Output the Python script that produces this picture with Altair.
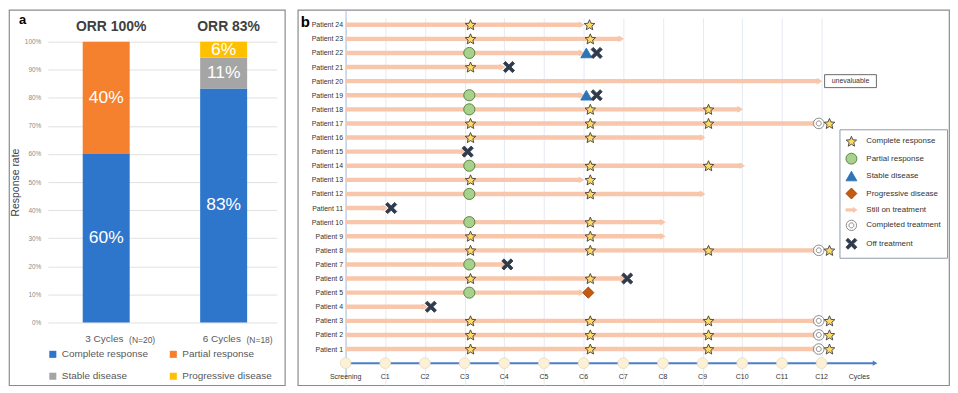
import altair as alt
import pandas as pd

FONT = "Liberation Sans"

# ---------------- panel a : response rates ----------------
groups = ["3 Cycles", "6 Cycles"]
group_n = ["(N=20)", "(N=18)"]
orr_titles = ["ORR 100%", "ORR 83%"]
responses = ["Complete response", "Partial response", "Stable disease", "Progressive disease"]
response_colors = ["#2E75CC", "#F5802E", "#A5A5A5", "#FFC000"]
pct_3_cycles = [60, 40, 0, 0]
pct_6_cycles = [83.3, 0, 11.1, 5.6]
text_3_cycles = ["60%", "40%", "", ""]
text_6_cycles = ["83%", "", "11%", "6%"]
pct_ticks = [0, 10, 20, 30, 40, 50, 60, 70, 80, 90, 100]

rows_a = []
for g, vals, txts in [(groups[0], pct_3_cycles, text_3_cycles),
                      (groups[1], pct_6_cycles, text_6_cycles)]:
    base = 0.0
    for r, v, t in zip(responses, vals, txts):
        if v > 0:
            rows_a.append({"group": g, "response": r, "y0": base, "y1": base + v,
                           "mid": base + v / 2, "text": t})
        base += v
df_a = pd.DataFrame(rows_a)
df_groups = pd.DataFrame({"group": groups, "n": group_n, "orr": orr_titles})

xa_scale = alt.Scale(domain=groups, range=[39, 269], paddingInner=0.6,
                     paddingOuter=0.275, align=0.54)
xa = alt.X("group:N", scale=xa_scale, axis=None)
ya_scale = alt.Scale(domain=[0, 100], range=[314, 32], nice=False)
ya_axis = alt.Axis(values=pct_ticks, labelExpr="datum.value + '%'", offset=-35,
                   ticks=False, domain=False, grid=True, gridColor="#D9D9D9",
                   gridWidth=0.8, labelFontSize=6.5, labelColor="#8C8C8C",
                   labelPadding=3, labelFont=FONT, title="Response rate",
                   titleFontSize=10.5, titleFontWeight="normal", titleColor="#404040",
                   titlePadding=4, titleFont=FONT)

legend_a = alt.Legend(orient="none", legendX=39, legendY=341, columns=2,
                      direction="horizontal",
                      columnPadding=20, rowPadding=12, symbolType="square",
                      symbolSize=50, symbolStrokeWidth=0, labelFontSize=10,
                      labelColor="#595959", labelFont=FONT, labelOffset=4, title=None)

bars = alt.Chart(df_a).mark_bar().encode(
    x=xa,
    y=alt.Y("y0:Q", scale=ya_scale, axis=ya_axis),
    y2="y1:Q",
    color=alt.Color("response:N", scale=alt.Scale(domain=responses, range=response_colors),
                    legend=legend_a),
)
seg_text = alt.Chart(df_a).mark_text(color="white", fontSize=17.5, font=FONT,
                                     baseline="middle").encode(
    x=xa, y=alt.Y("mid:Q", scale=ya_scale, axis=ya_axis), text="text:N")
orr = alt.Chart(df_groups).mark_text(fontSize=14, fontWeight="bold", color="#404040",
                                     font=FONT, dx=5, dy=-15, baseline="middle").encode(
    x=xa, y=alt.YDatum(100, type="quantitative", scale=ya_scale, axis=ya_axis), text="orr:N")
xlab = alt.Chart(df_groups).mark_text(fontSize=10, color="#595959", font=FONT,
                                      align="left", dx=-21, dy=17, baseline="middle").encode(
    x=xa, y=alt.YDatum(0, type="quantitative", scale=ya_scale, axis=ya_axis), text="group:N")
nlab = alt.Chart(df_groups).mark_text(fontSize=8.5, color="#595959", font=FONT,
                                      align="left", dx=23, dy=17.5, baseline="middle").encode(
    x=xa, y=alt.YDatum(0, type="quantitative", scale=ya_scale, axis=ya_axis), text="n:N")

panel_a = alt.layer(bars, seg_text, orr, xlab, nlab).properties(
    width=277, height=377,
    title=alt.TitleParams("a", anchor="start", frame="group", offset=-17, dx=10,
                          fontSize=13, fontWeight="bold", color="black", font=FONT),
)

# ---------------- panel b : swimmer plot ----------------
patients = ["Patient 24", "Patient 23", "Patient 22", "Patient 21", "Patient 20",
            "Patient 19", "Patient 18", "Patient 17", "Patient 16", "Patient 15",
            "Patient 14", "Patient 13", "Patient 12", "Patient 11", "Patient 10",
            "Patient 9", "Patient 8", "Patient 7", "Patient 6", "Patient 5",
            "Patient 4", "Patient 3", "Patient 2", "Patient 1"]
treatment_end = [5.95, 6.95, 5.95, 3.95, 11.95, 5.95, 9.95, 11.85, 9.0, 3.0,
                 10.0, 5.95, 9.0, 1.0, 8.0, 8.0, 11.85, 4.0, 7.0, 5.95,
                 2.0, 11.85, 11.85, 11.85]

marker_patient = [
    "Patient 24", "Patient 24",
    "Patient 23", "Patient 23",
    "Patient 22", "Patient 22", "Patient 22",
    "Patient 21", "Patient 21",
    "Patient 19", "Patient 19", "Patient 19",
    "Patient 18", "Patient 18", "Patient 18",
    "Patient 17", "Patient 17", "Patient 17", "Patient 17", "Patient 17",
    "Patient 16", "Patient 16",
    "Patient 15",
    "Patient 14", "Patient 14", "Patient 14",
    "Patient 13", "Patient 13",
    "Patient 12", "Patient 12",
    "Patient 11",
    "Patient 10", "Patient 10",
    "Patient 9", "Patient 9",
    "Patient 8", "Patient 8", "Patient 8", "Patient 8", "Patient 8",
    "Patient 7", "Patient 7",
    "Patient 6", "Patient 6", "Patient 6",
    "Patient 5", "Patient 5",
    "Patient 4",
    "Patient 3", "Patient 3", "Patient 3", "Patient 3", "Patient 3",
    "Patient 2", "Patient 2", "Patient 2", "Patient 2", "Patient 2",
    "Patient 1", "Patient 1", "Patient 1", "Patient 1", "Patient 1",
]
marker_cycle = [
    3.15, 6.15,
    3.15, 6.17,
    3.12, 6.07, 6.33,
    3.15, 4.12,
    3.12, 6.07, 6.33,
    3.12, 6.17, 9.15,
    3.15, 6.17, 9.15, 11.93, 12.2,
    3.15, 6.17,
    3.08,
    3.12, 6.17, 9.15,
    3.15, 6.17,
    3.12, 6.17,
    1.15,
    3.12, 6.17,
    3.15, 6.17,
    3.15, 6.17, 9.15, 11.93, 12.2,
    3.12, 4.08,
    3.15, 6.17, 7.1,
    3.12, 6.12,
    2.15,
    3.15, 6.17, 9.15, 11.93, 12.2,
    3.15, 6.17, 9.15, 11.93, 12.2,
    3.15, 6.17, 9.15, 11.93, 12.2,
]
CR, PR, SD, PD, ON, DONE, OFF = ("Complete response", "Partial response", "Stable disease",
                                 "Progressive disease", "Still on treatment",
                                 "Completed treatment", "Off treatment")
marker_status = [
    CR, CR,
    CR, CR,
    PR, SD, OFF,
    CR, OFF,
    PR, SD, OFF,
    PR, CR, CR,
    CR, CR, CR, DONE, CR,
    CR, CR,
    OFF,
    PR, CR, CR,
    CR, CR,
    PR, CR,
    OFF,
    PR, CR,
    CR, CR,
    CR, CR, CR, DONE, CR,
    PR, OFF,
    CR, CR, OFF,
    PR, PD,
    OFF,
    CR, CR, CR, DONE, CR,
    CR, CR, CR, DONE, CR,
    CR, CR, CR, DONE, CR,
]

cycle_labels = ["Screening", "C1", "C2", "C3", "C4", "C5", "C6", "C7", "C8", "C9",
                "C10", "C11", "C12"]
cycle_values = [0, 1, 2, 3, 4, 5, 6, 7, 8, 9, 10, 11, 12]
axis_arrow_end = [13.35]
cycles_title = ["Cycles"]
cycles_title_at = [12.95]
note_text = ["unevaluable"]
note_patient = ["Patient 20"]
note_at = [12.73]

statuses = [CR, PR, SD, PD, ON, DONE, OFF]
STAR = ("M0,-0.905L0.265,-0.269L0.951,-0.214L0.428,0.235L0.588,0.905L0,0.546"
        "L-0.588,0.905L-0.428,0.235L-0.951,-0.214L-0.265,-0.269Z")
ARROW = "M-1,-0.2L0.35,-0.2L0.35,-0.45L1,0L0.35,0.45L0.35,0.2L-1,0.2Z"
RINGS = ("M-0.95,0A0.95,0.95,0,1,0,0.95,0A0.95,0.95,0,1,0,-0.95,0Z"
         "M-0.45,0A0.45,0.45,0,1,0,0.45,0A0.45,0.45,0,1,0,-0.45,0Z")
XMARK = ("M-0.62,-1L0,-0.38L0.62,-1L1,-0.62L0.38,0L1,0.62L0.62,1L0,0.38"
         "L-0.62,1L-1,0.62L-0.38,0L-1,-0.62Z")
BOX = "M-1,-0.25L1,-0.25L1,0.25L-1,0.25Z"
status_shapes = [STAR, "circle", "triangle-up", "diamond", ARROW, RINGS, XMARK]
status_fills = ["#FFD966", "#A9D18E", "#2E75B6", "#C55A11", "#F8C6AA", "#FFFFFF", "#2F3B4C"]
status_strokes = ["#3F3F3F", "#4E7A31", "#2E75B6", "#9C4209", "#F8C6AA", "#7F7F7F", "#2F3B4C"]

ROWS = patients + ["~axis", "~labels"]
x_scale = alt.Scale(domain=[0, 12], range=[48, 526], nice=False, zero=False)
x_axis = alt.Axis(values=cycle_values, labels=False, ticks=False, domain=False, grid=True,
                  gridColor="#DDE4EF", gridWidth=0.8, title=None)
y_scale = alt.Scale(type="point", domain=ROWS, range=[0, 369], padding=0.53, align=1)
y_axis = alt.Axis(title=None, offset=-48, ticks=False, domain=True, domainColor="#A9BFDF",
                  domainWidth=1, labelPadding=3, labelFontSize=7, labelColor="#333333",
                  labelFont=FONT, grid=False,
                  labelExpr="indexof(datum.label, '~') == 0 ? '' : datum.label")


def xq(field):
    return alt.X(f"{field}:Q", scale=x_scale, axis=x_axis)


def yr(field="row"):
    return alt.Y(f"{field}:N", scale=y_scale, axis=y_axis)


df_lines = pd.DataFrame({"row": patients, "end": treatment_end,
                         "start": [0] * len(patients)})
df_marks = pd.DataFrame({"row": marker_patient, "cycle": marker_cycle,
                         "status": marker_status})
df_cycles = pd.DataFrame({"cycle": cycle_values, "label": cycle_labels,
                          "row": ["~axis"] * len(cycle_values),
                          "lrow": ["~labels"] * len(cycle_values)})
df_axis = pd.DataFrame({"start": [0], "end": axis_arrow_end, "row": ["~axis"]})
df_ctitle = pd.DataFrame({"x": cycles_title_at, "label": cycles_title, "row": ["~labels"]})
df_note = pd.DataFrame({"x": note_at, "label": note_text, "row": note_patient})

LINE_COLOR = "#F8C6AA"
AXIS_BLUE = "#4A7EC7"

lines = alt.Chart(df_lines).mark_rule(color=LINE_COLOR, strokeWidth=4.4).encode(
    x=xq("start"), x2="end:Q", y=yr())
heads = alt.Chart(df_lines).mark_point(shape="triangle-right", filled=True, size=45,
                                       color=LINE_COLOR, opacity=1).encode(
    x=xq("end"), y=yr())
note_box = alt.Chart(df_note).mark_point(shape=BOX, size=2704, filled=True, fill="white",
                                         stroke="#444444", strokeWidth=0.8, opacity=1).encode(
    x=xq("x"), y=yr())
note_txt = alt.Chart(df_note).mark_text(fontSize=7, color="#333333", font=FONT).encode(
    x=xq("x"), y=yr(), text="label:N")
axis_line = alt.Chart(df_axis).mark_rule(color=AXIS_BLUE, strokeWidth=2).encode(
    x=xq("start"), x2="end:Q", y=yr())
axis_head = alt.Chart(df_axis).mark_point(shape="triangle-right", filled=True, size=30,
                                          color=AXIS_BLUE, opacity=1).encode(
    x=xq("end"), y=yr())
axis_dots = alt.Chart(df_cycles).mark_point(shape="circle", filled=True, size=115,
                                            fill="#FDF1D5", stroke="#E6DAC0",
                                            strokeWidth=0.8, opacity=1).encode(
    x=xq("cycle"), y=yr())
axis_text = alt.Chart(df_cycles).mark_text(fontSize=7, color="#333333", font=FONT).encode(
    x=xq("cycle"), y=yr("lrow"), text="label:N")
ctitle = alt.Chart(df_ctitle).mark_text(fontSize=7, color="#333333", font=FONT).encode(
    x=xq("x"), y=yr(), text="label:N")

legend_b = alt.Legend(orient="none", legendX=834, legendY=120, title=None,
                      fillColor="white", strokeColor="#8E99A8", padding=6, rowPadding=2.5,
                      labelFontSize=8, labelColor="#333333", labelFont=FONT, labelOffset=9,
                      symbolSize=120, symbolStrokeWidth=0.9)
markers = alt.Chart(df_marks).mark_point(filled=True, size=125, strokeWidth=0.9,
                                         opacity=1).encode(
    x=xq("cycle"), y=yr(),
    shape=alt.Shape("status:N", scale=alt.Scale(domain=statuses, range=status_shapes),
                    legend=legend_b),
    fill=alt.Fill("status:N", scale=alt.Scale(domain=statuses, range=status_fills),
                  legend=legend_b),
    stroke=alt.Stroke("status:N", scale=alt.Scale(domain=statuses, range=status_strokes),
                      legend=legend_b),
)

panel_b = alt.layer(lines, heads, note_box, note_txt, axis_line, axis_head, axis_dots,
                    axis_text, ctitle, markers).properties(
    width=654, height=377,
    title=alt.TitleParams("b", anchor="start", frame="group", offset=-20, dx=3,
                          fontSize=15, fontWeight="bold", color="black", font=FONT),
)

chart = alt.hconcat(panel_a, panel_b, spacing=11).properties(
    padding=0, background="white"
).configure_view(stroke="#8C8C8C", strokeWidth=1.2)

chart.save("out.html", embed_options={"renderer": "svg", "actions": False})
